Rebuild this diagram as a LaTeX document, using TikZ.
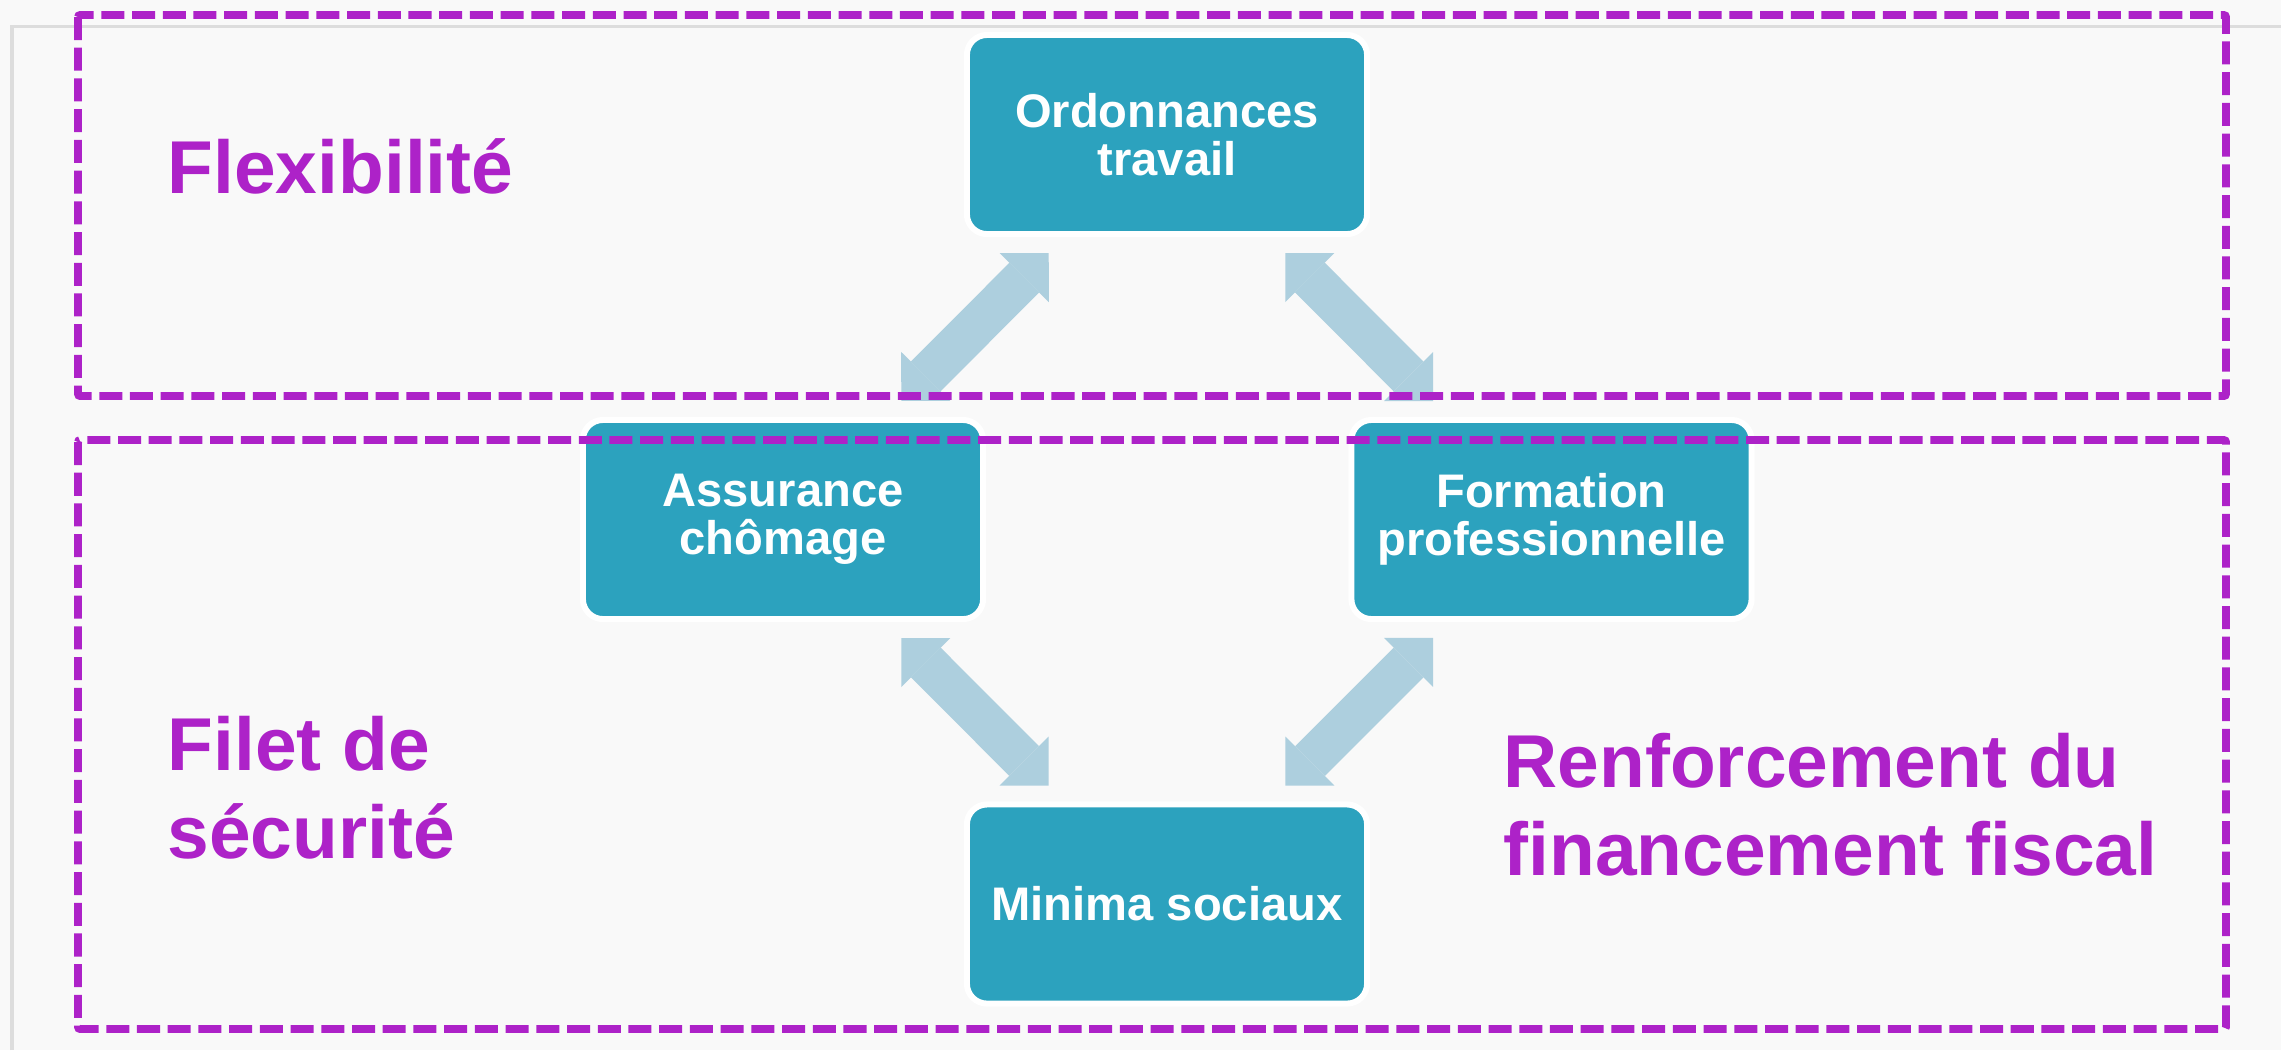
\documentclass[tikz,border=0pt]{standalone}
\usepackage{fontspec}
\setmainfont{Liberation Sans}
\usetikzlibrary{arrows.meta}
\definecolor{bgc}{RGB}{249,249,249}
\definecolor{panelc}{RGB}{221,221,221}
\definecolor{tealc}{RGB}{44,162,190}
\definecolor{arrowc}{RGB}{173,207,222}
\definecolor{purplec}{RGB}{173,34,200}
\tikzset{
  box/.style={rectangle, rounded corners=0.2cm, fill=tealc, draw=white, line width=0.06cm,
    minimum width=4.0cm, minimum height=1.99cm, inner sep=0pt, align=center, text=white,
    font=\bfseries\fontsize{13.4}{13.7}\selectfont},
  lab/.style={inner sep=0pt, text=purplec, align=left,
    font=\bfseries\fontsize{21.3}{25}\selectfont},
  zone/.style={draw=purplec, line width=0.077cm, dash pattern=on 0.23cm off 0.077cm, rounded corners=0.02cm},
  dblarrow/.style={draw=arrowc, line width=0.42cm,
    {Triangle[length=0.346cm,width=0.693cm,line width=0pt]}-{Triangle[length=0.346cm,width=0.693cm,line width=0pt]},
    shorten <=1.674cm, shorten >=1.674cm}
}
\begin{document}
\begin{tikzpicture}[x=0.01cm,y=-0.01cm]
\useasboundingbox (0,0) rectangle (2281,1050);
\fill[bgc] (0,0) rectangle (2281,1050);
\draw[panelc, line width=0.03cm] (12,1050) -- (12,26) -- (2281,26);
% boxes
\node[box] (ord) at (1167,134.5) {Ordonnances\\travail};
\node[box] (ass) at (783,519.5) {Assurance\\chômage};
\node[box] (form) at (1551.5,519.5) {Formation\\professionnelle};
\node[box] (min) at (1167,904) {Minima sociaux};
% arrows
\draw[dblarrow] (ord.center) -- (ass.center);
\draw[dblarrow] (ord.center) -- (form.center);
\draw[dblarrow] (ass.center) -- (min.center);
\draw[dblarrow] (form.center) -- (min.center);
% labels (base anchor = baseline of last line)
\node[lab, anchor=base west] (flex) at (167,193) {Flexibilité};
\node[lab, anchor=base west] (filet) at (167,858) {Filet de\\sécurité};
\node[lab, anchor=base west] (renf) at (1503,875) {Renforcement du\\financement fiscal};
% zones
\draw[zone] (78,15) rectangle (2226,396);
\draw[zone] (78,440) rectangle (2226,1029);
\end{tikzpicture}
\end{document}
